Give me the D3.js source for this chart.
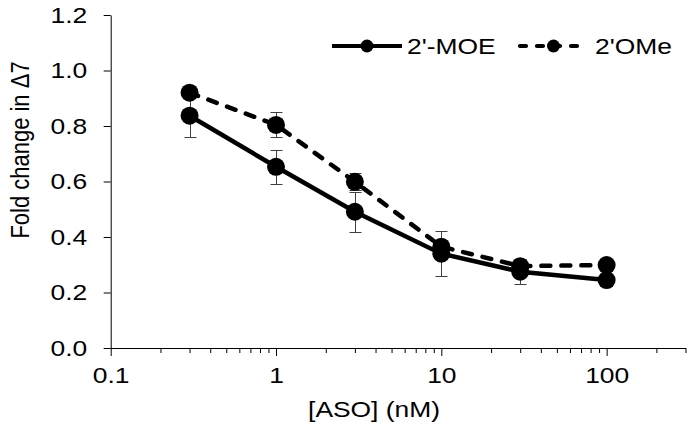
<!DOCTYPE html>
<html>
<head>
<meta charset="utf-8">
<script src="https://cdn.jsdelivr.net/npm/d3@7"></script>
<style>
  body { margin: 0; background: #fff; }
  text { font-family: "Liberation Sans", Arial, sans-serif; fill: #000; }
</style>
</head>
<body>
<svg id="chart" width="694" height="445"></svg>
<script>
// ASO concentrations (nM) and fold change in Δ7 for each chemistry
const concentrations = [0.3, 1, 3, 10, 30, 100];
const moeValues = [0.837, 0.653, 0.491, 0.340, 0.275, 0.245];
const moeErrors = [0.077, 0.062, 0.072, 0.080, 0.045, 0.008];
const omeValues = [0.920, 0.804, 0.599, 0.365, 0.295, 0.299];
const omeErrors = [0.015, 0.045, 0.030, 0.020, 0.010, 0.008];
const seriesNames = ["2'-MOE", "2'OMe"];
const yTickValues = [0, 0.2, 0.4, 0.6, 0.8, 1.0, 1.2];
const xTickValues = [0.1, 1, 10, 100];
const xDomain = [0.1, 300];
const yDomain = [0, 1.2];

const fontSize = 22;
const SX = 1.2; // text is drawn slightly wide
const svg = d3.select("#chart");

const x = d3.scaleLog().domain(xDomain).range([110.7, 685.5]);
const y = d3.scaleLinear().domain(yDomain).range([348, 15]);

const series = [
  { name: seriesNames[0], values: moeValues, errors: moeErrors, dash: null },
  { name: seriesNames[1], values: omeValues, errors: omeErrors, dash: "9,11" }
].map(s => ({
  ...s,
  points: concentrations.map((c, i) => ({ c, v: s.values[i], e: s.errors[i] }))
}));

// widen axis tick labels around their own anchor
function widen(sel) {
  sel.each(function () {
    const t = d3.select(this);
    const tx = +t.attr("x") || 0;
    t.attr("x", tx / SX).attr("transform", `scale(${SX},1)`)
      .style("font-size", fontSize + "px");
  });
}

// Y axis
const yAxis = svg.append("g")
  .attr("transform", `translate(${x.range()[0]},0)`)
  .call(d3.axisLeft(y).tickValues(yTickValues).tickFormat(d3.format(".1f"))
    .tickSize(7).tickSizeOuter(0).tickPadding(16.4));
widen(yAxis.selectAll("text"));

// X axis: minor ticks from the log scale, then labelled decades
const minorTicks = x.ticks().filter(t => !xTickValues.includes(t));
svg.append("g")
  .attr("transform", `translate(0,${y(0)})`)
  .call(d3.axisBottom(x).tickValues(minorTicks).tickFormat("").tickSize(5).tickSizeOuter(0));
const xAxis = svg.append("g")
  .attr("transform", `translate(0,${y(0)})`)
  .call(d3.axisBottom(x).tickValues(xTickValues).tickFormat(d3.format("~g"))
    .tickSize(8).tickSizeOuter(0).tickPadding(11));
widen(xAxis.selectAll("text"));
svg.selectAll(".domain, .tick line").attr("stroke", "#000").attr("stroke-width", 1);
svg.selectAll("text").attr("font-family", null);

// Axis titles
svg.append("g")
  .attr("transform", `translate(374,417) scale(${SX},1)`)
  .append("text")
  .attr("text-anchor", "middle")
  .style("font-size", fontSize + "px")
  .text("[ASO] (nM)");
svg.append("g")
  .attr("transform", `translate(29,150) scale(${SX},1) rotate(-90)`)
  .append("text")
  .attr("text-anchor", "middle")
  .style("font-size", fontSize + "px")
  .text("Fold change in Δ7");

// Error bars
const cap = 6;
const crisp = v => Math.round(v) + 0.5;
series.forEach(s => {
  const g = svg.append("g").attr("stroke", "#404040").attr("stroke-width", 1);
  s.points.forEach(p => {
    const cx = crisp(x(p.c)), y0 = crisp(y(p.v - p.e)), y1 = crisp(y(p.v + p.e));
    g.append("line").attr("x1", cx).attr("x2", cx).attr("y1", y0).attr("y2", y1);
    g.append("line").attr("x1", cx - cap).attr("x2", cx + cap).attr("y1", y0).attr("y2", y0);
    g.append("line").attr("x1", cx - cap).attr("x2", cx + cap).attr("y1", y1).attr("y2", y1);
  });
});

// Lines and markers
const line = d3.line().x(d => x(d.c)).y(d => y(d.v));
series.forEach(s => {
  svg.append("path")
    .datum(s.points)
    .attr("fill", "none")
    .attr("stroke", "#000")
    .attr("stroke-width", 4.5)
    .attr("stroke-linecap", s.dash ? "round" : "butt")
    .attr("stroke-dasharray", s.dash)
    .attr("d", line);
  svg.append("g").selectAll("circle")
    .data(s.points)
    .join("circle")
    .attr("cx", d => x(d.c))
    .attr("cy", d => y(d.v))
    .attr("r", 9)
    .attr("fill", "#000");
});

// Legend
const legendItems = [
  { x0: 332, x1: 402, tx: 407, dash: null },
  { x0: 520, x1: 587, tx: 595, dash: "6,11" }
];
legendItems.forEach((item, i) => {
  const ly = 46;
  const g = svg.append("g");
  g.append("line")
    .attr("x1", item.x0).attr("x2", item.x1)
    .attr("y1", ly).attr("y2", ly)
    .attr("stroke", "#000").attr("stroke-width", 4.2)
    .attr("stroke-linecap", item.dash ? "round" : "butt")
    .attr("stroke-dasharray", item.dash);
  g.append("circle")
    .attr("cx", (item.x0 + item.x1) / 2).attr("cy", ly).attr("r", 6.5)
    .attr("fill", "#000");
  g.append("g")
    .attr("transform", `translate(${item.tx},${ly}) scale(${SX},1)`)
    .append("text")
    .attr("dy", "0.35em")
    .style("font-size", fontSize + "px")
    .text(series[i].name);
});
</script>
</body>
</html>
